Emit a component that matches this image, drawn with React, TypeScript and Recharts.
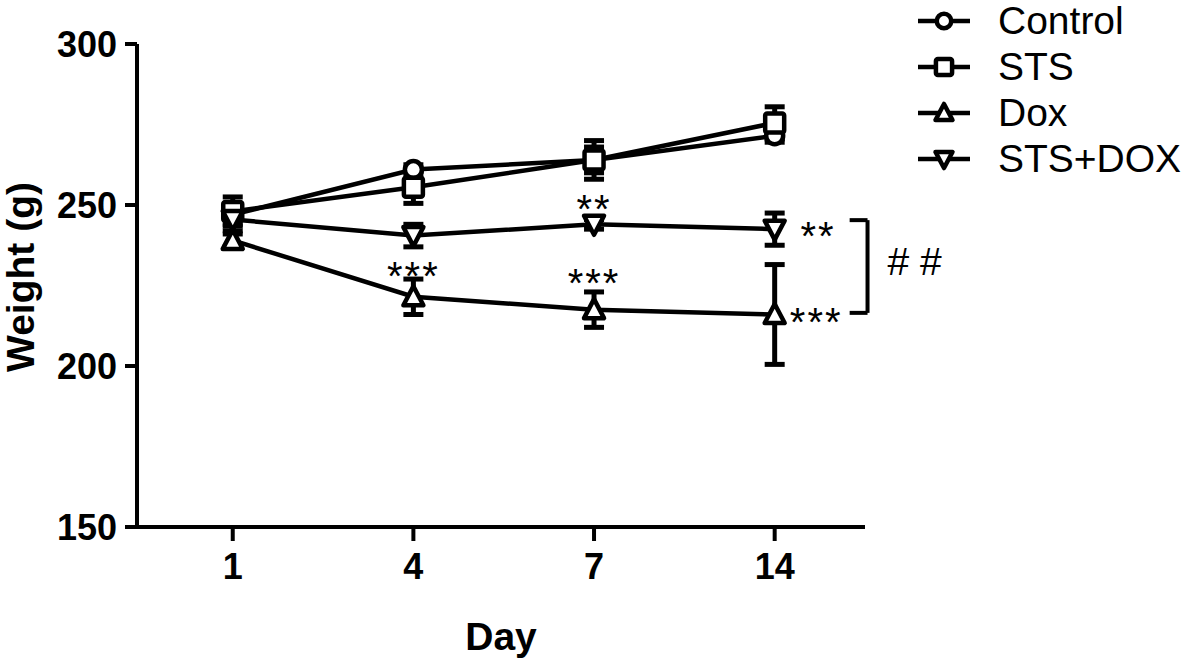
import React from 'react';
import {
  LineChart,
  Line,
  XAxis,
  YAxis,
  ErrorBar,
  ReferenceDot,
  ReferenceLine,
} from 'recharts';

// Day categories (placed at x = 0..3 on a numeric axis)
const days = ['1', '4', '7', '14'];
const dayIdx = [0, 1, 2, 3];

// Body weight, g (mean ± error)
const control = [247, 261, 264, 271.5];
const controlErr = [3, 1.5, 4, 2];
const sts = [248, 255.5, 264, 275.5];
const stsErr = [4.5, 5, 6, 5];
const dox = [239, 221.5, 217.5, 216];
const doxErr = [2, 5.5, 5.5, 15.5];
const stsDox = [245.5, 240.5, 244, 242.5];
const stsDoxErr = [3.5, 3.5, 1.5, 5];

const yTicks = [150, 200, 250, 300];

// Significance marks, in data units (x = day index, y = weight)
const starMarks = [
  { x: 1, y: 230.7, text: '***' },
  { x: 2, y: 228.6, text: '***' },
  { x: 2, y: 251.6, text: '**' },
  { x: 3.24, y: 243.2, text: '**' },
  { x: 3.23, y: 216.5, text: '***' },
];
const bracket = { x0: 3.415, x1: 3.514, yTop: 245.3, yBottom: 216.5 };
const hashMark = { x: 3.774, y: 232.6, text: '# #' };

const FONT = 'Arial, "Liberation Sans", Helvetica, sans-serif';

const series = [
  { key: 'control', err: 'controlErr', name: 'Control', kind: 'circle' },
  { key: 'sts', err: 'stsErr', name: 'STS', kind: 'square' },
  { key: 'dox', err: 'doxErr', name: 'Dox', kind: 'up' },
  { key: 'stsDox', err: 'stsDoxErr', name: 'STS+DOX', kind: 'down' },
];

const data = dayIdx.map((i) => ({
  i,
  control: control[i],
  controlErr: controlErr[i],
  sts: sts[i],
  stsErr: stsErr[i],
  dox: dox[i],
  doxErr: doxErr[i],
  stsDox: stsDox[i],
  stsDoxErr: stsDoxErr[i],
}));

function Marker({ cx, cy, kind, s = 1 }: { cx: number; cy: number; kind: string; s?: number }) {
  const common = { fill: '#fff', stroke: '#000', strokeWidth: 4.5, strokeLinejoin: 'round' as const };
  if (kind === 'circle') return <circle cx={cx} cy={cy} r={8.5 * s} {...common} />;
  if (kind === 'square')
    return <rect x={cx - 9.5 * s} y={cy - 9.5 * s} width={19 * s} height={19 * s} rx={2} {...common} />;
  const h = 9.5 * s;
  const w = 10 * s;
  if (kind === 'up')
    return <polygon points={`${cx},${cy - h - 1} ${cx + w},${cy + h - 1} ${cx - w},${cy + h - 1}`} {...common} />;
  return <polygon points={`${cx},${cy + h + 1} ${cx + w},${cy - h + 1} ${cx - w},${cy - h + 1}`} {...common} />;
}

const YTitle = () => (
  <text
    x={34}
    y={277}
    transform="rotate(-90 34 277)"
    textAnchor="middle"
    fontFamily={FONT}
    fontWeight={700}
    fontSize={39}
    fill="#000"
  >
    Weight (g)
  </text>
);

function StarShape(text: string, size: number, lift: number, spacing = 0) {
  return (p: any) => (
    <text
      x={p.cx}
      y={p.cy + lift}
      textAnchor="middle"
      fontFamily={FONT}
      fontSize={size}
      letterSpacing={spacing}
      fill="#000"
    >
      {text}
    </text>
  );
}

export default function App() {
  return (
    <div style={{ position: 'absolute', left: 0, top: 0, width: 1184, height: 660, background: '#fff' }}>
      <LineChart
        width={1184}
        height={660}
        data={data}
        margin={{ top: 44, right: 319, bottom: 0, left: 0 }}
      >
        <XAxis
          type="number"
          dataKey="i"
          domain={[-0.53, 3.5]}
          ticks={dayIdx}
          tickFormatter={(v) => days[v] ?? ''}
          allowDataOverflow
          height={133}
          tickSize={14}
          tickMargin={12}
          axisLine={{ stroke: '#000', strokeWidth: 4 }}
          tickLine={{ stroke: '#000', strokeWidth: 4 }}
          tick={{ fontSize: 36, fontWeight: 700, fill: '#000', fontFamily: FONT }}
          label={{
            value: 'Day',
            position: 'insideBottom',
            offset: 10,
            fill: '#000',
            fontSize: 39,
            fontWeight: 700,
            fontFamily: FONT,
          }}
        />
        <YAxis
          domain={[150, 300]}
          ticks={yTicks}
          width={137}
          tickSize={12}
          tickMargin={8}
          axisLine={{ stroke: '#000', strokeWidth: 4 }}
          tickLine={{ stroke: '#000', strokeWidth: 4 }}
          tick={{ fontSize: 36, fontWeight: 700, fill: '#000', fontFamily: FONT }}
          label={<YTitle />}
        />
        {series.map((s) => (
          <Line
            key={s.key}
            dataKey={s.key}
            name={s.name}
            type="linear"
            stroke="#000"
            strokeWidth={4.5}
            isAnimationActive={false}
            dot={(p: any) => <Marker key={`${s.key}-${p.index}`} cx={p.cx} cy={p.cy} kind={s.kind} />}
            activeDot={false}
          >
            <ErrorBar dataKey={s.err} direction="y" width={10} strokeWidth={5} stroke="#000" />
          </Line>
        ))}
        {starMarks.map((m, k) => (
          <ReferenceDot
            key={`star-${k}`}
            x={m.x}
            y={m.y}
            r={0}
            ifOverflow="visible"
            shape={StarShape(m.text, 40, 23, 2)}
          />
        ))}
        <ReferenceLine
          segment={[{ x: bracket.x0, y: bracket.yTop }, { x: bracket.x1, y: bracket.yTop }]}
          stroke="#000"
          strokeWidth={4}
          ifOverflow="visible"
        />
        <ReferenceLine
          segment={[{ x: bracket.x1, y: bracket.yTop }, { x: bracket.x1, y: bracket.yBottom }]}
          stroke="#000"
          strokeWidth={4}
          ifOverflow="visible"
        />
        <ReferenceLine
          segment={[{ x: bracket.x0, y: bracket.yBottom }, { x: bracket.x1, y: bracket.yBottom }]}
          stroke="#000"
          strokeWidth={4}
          ifOverflow="visible"
        />
        <ReferenceDot
          x={hashMark.x}
          y={hashMark.y}
          r={0}
          ifOverflow="visible"
          shape={StarShape(hashMark.text, 39, 14)}
        />
      </LineChart>

      {/* legend, top right */}
      <div style={{ position: 'absolute', left: 916, top: -2, display: 'flex', flexDirection: 'column' }}>
        {series.map((s) => (
          <div key={s.key} style={{ display: 'flex', alignItems: 'center', height: 46 }}>
            <svg width={56} height={30}>
              <line x1={2} x2={54} y1={15} y2={15} stroke="#000" strokeWidth={4.5} />
              <Marker cx={28} cy={15} kind={s.kind} s={0.85} />
            </svg>
            <span
              style={{
                marginLeft: 26,
                fontFamily: FONT,
                fontSize: 39,
                lineHeight: '46px',
                color: '#000',
                whiteSpace: 'nowrap',
              }}
            >
              {s.name}
            </span>
          </div>
        ))}
      </div>
    </div>
  );
}
